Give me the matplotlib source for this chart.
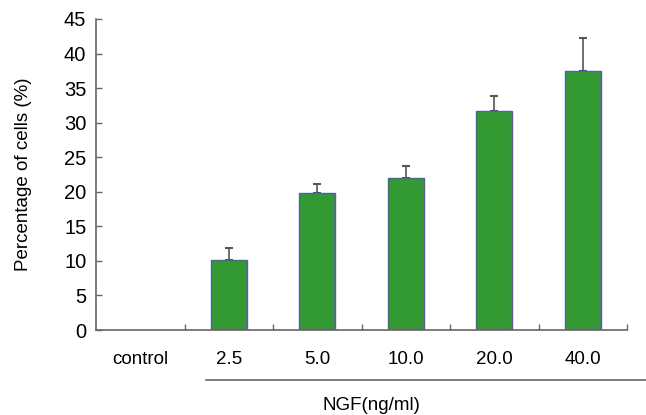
import numpy as np
import matplotlib
matplotlib.use("Agg")
import matplotlib.pyplot as plt
from matplotlib.lines import Line2D

plt.rcParams['font.family'] = ['Liberation Sans', 'DejaVu Sans']

# data
groups = ["control", "2.5", "5.0", "10.0", "20.0", "40.0"]
pct = [0, 10.2, 19.8, 22.0, 31.7, 37.5]
err = [0, 1.6, 1.3, 1.7, 2.2, 4.8]

fig = plt.figure(figsize=(6.46, 4.15), dpi=100)
ax = fig.add_axes([96 / 646, 85 / 415, 531 / 646, 311 / 415])

x = np.arange(len(groups))
axis_col = "#666666"

bars = ax.bar(x[1:], pct[1:], width=0.41, color="#339933",
              edgecolor="#5a5aa8", linewidth=1.0, zorder=2)
ax.errorbar(x[1:], pct[1:], yerr=[np.zeros(len(x) - 1), err[1:]],
            fmt="none", ecolor="#555555", elinewidth=1.2, capsize=3,
            capthick=1.5, zorder=1)

ax.set_xlim(-0.5, 5.5)
ax.set_ylim(0, 45)
ax.set_yticks(np.arange(0, 46, 5))

# boundary ticks without labels, labels at category centres
ax.set_xticks(np.append(x[1:] - 0.5, 5.5))
ax.set_xticklabels([])
ax.set_xticks(x, groups, minor=True)
ax.tick_params(axis="x", which="major", direction="in", length=4,
               color=axis_col, width=1)
ax.tick_params(axis="x", which="minor", length=0, pad=15, labelsize=13.5)
ax.tick_params(axis="y", direction="in", length=4, color=axis_col,
               width=1, labelsize=14.5, pad=7)

for s in ["top", "right"]:
    ax.spines[s].set_visible(False)
for s in ["left", "bottom"]:
    ax.spines[s].set_color(axis_col)
    ax.spines[s].set_linewidth(1.2)

ax.set_ylabel("Percentage of cells (%)", fontsize=13.5)
ax.yaxis.set_label_coords(-0.12, 0.5)

fig.add_artist(Line2D([206 / 646, 1.0], [1 - 380 / 415, 1 - 380 / 415],
                      color=axis_col, linewidth=1.2))
fig.text(371 / 646, 1 - 405 / 415, "NGF(ng/ml)", ha="center", va="center",
         fontsize=13.5)

fig.savefig("out.png", dpi=100)
